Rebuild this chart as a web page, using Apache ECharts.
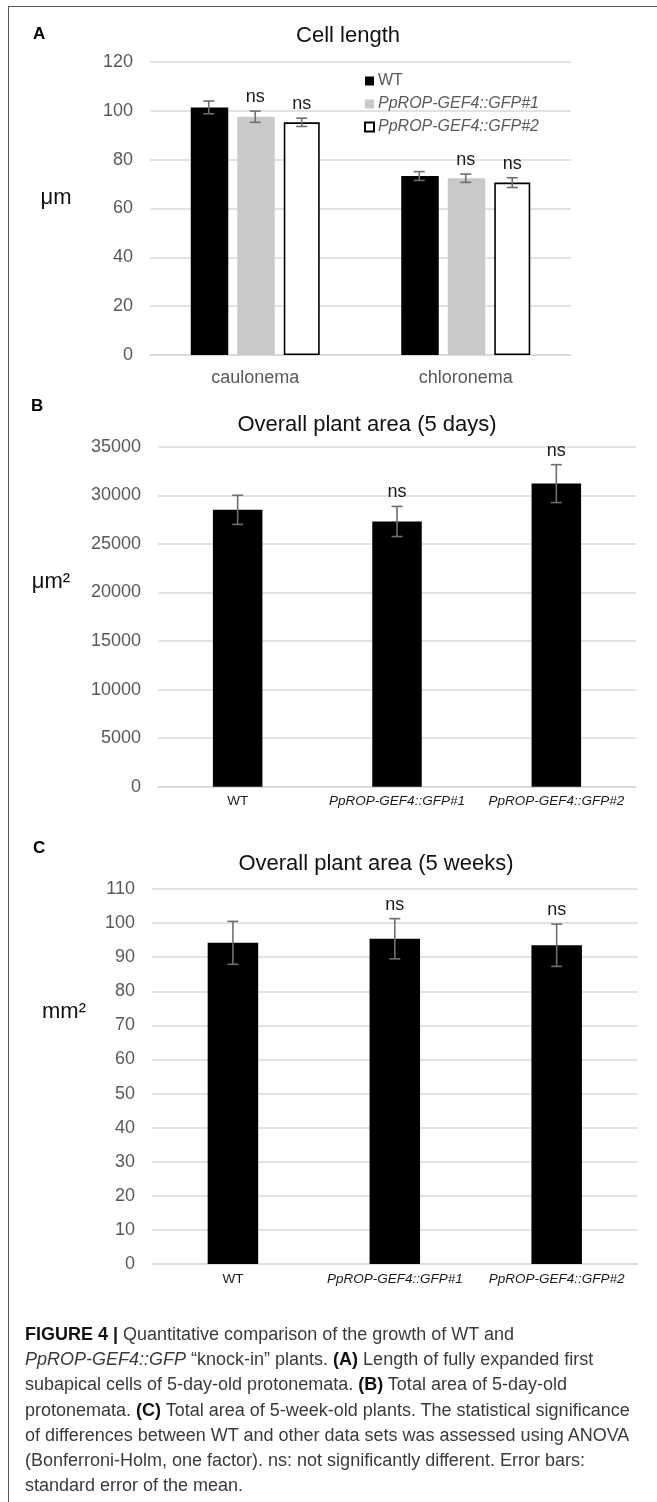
<!DOCTYPE html>
<html>
<head>
<meta charset="utf-8">
<script src="https://cdn.jsdelivr.net/npm/echarts@6/dist/echarts.min.js"></script>
<style>
  html, body { margin:0; padding:0; background:#fff; }
  #wrap { position:relative; width:657px; height:1502px; overflow:hidden; }
  #chart { position:absolute; left:0; top:0; width:657px; height:1502px; }
  #frame { position:absolute; left:8px; top:6px; width:700px; height:1600px;
           border-top:1.5px solid #555; border-left:1.5px solid #555; pointer-events:none; }
  #caption { position:absolute; left:25px; top:1322px; width:640px;
             font-family:"Liberation Sans", Arial, sans-serif; font-size:18px; line-height:25.2px;
             color:#3a3a3a; white-space:nowrap; }
  #caption b { color:#111; }
</style>
</head>
<body>
<div id="wrap">
  <div id="chart"></div>
  <div id="frame"></div>
  <div id="caption">
    <b>FIGURE 4 |</b> Quantitative comparison of the growth of WT and<br>
    <i>PpROP-GEF4::GFP</i> “knock-in” plants. <b>(A)</b> Length of fully expanded first<br>
    subapical cells of 5-day-old protonemata. <b>(B)</b> Total area of 5-day-old<br>
    protonemata. <b>(C)</b> Total area of 5-week-old plants. The statistical significance<br>
    of differences between WT and other data sets was assessed using ANOVA<br>
    (Bonferroni-Holm, one factor). ns: not significantly different. Error bars:<br>
    standard error of the mean.
  </div>
</div>
<script>
// ---------- DATA ----------
const seriesNames = ['WT', 'PpROP-GEF4::GFP#1', 'PpROP-GEF4::GFP#2'];

// Panel A: Cell length (µm)
const catsA = ['caulonema', 'chloronema'];
const aWT   = [101.4, 73.3];
const aWTe  = [2.6, 1.8];
const aG1   = [97.6, 72.4];
const aG1e  = [2.3, 1.7];
const aG2   = [95.3, 70.6];
const aG2e  = [1.7, 2.0];
const aSig  = [['', ''], ['ns', 'ns'], ['ns', 'ns']];
const ticksA = { min: 0, max: 120, interval: 20 };

// Panel B: Overall plant area (5 days), µm²
const catsB = ['WT', 'PpROP-GEF4::GFP#1', 'PpROP-GEF4::GFP#2'];
const bVal  = [28500, 27300, 31200];
const bErr  = [1500, 1550, 1950];
const bSig  = ['', 'ns', 'ns'];
const ticksB = { min: 0, max: 35000, interval: 5000 };

// Panel C: Overall plant area (5 weeks), mm²
const catsC = ['WT', 'PpROP-GEF4::GFP#1', 'PpROP-GEF4::GFP#2'];
const cVal  = [94.2, 95.4, 93.5];
const cErr  = [6.3, 5.9, 6.2];
const cSig  = ['', 'ns', 'ns'];
const ticksC = { min: 0, max: 110, interval: 10 };

// ---------- STYLE ----------
const FONT = '"Liberation Sans", Arial, sans-serif';
const GRID_COL = '#d9d9d9';
const TICK_COL = '#595959';
const ERR_COL = '#6e6e6e';

const chart = echarts.init(document.getElementById('chart'), null, { renderer: 'canvas' });

function errorSeries(xi, yi, vals, errs, sigs, xOffset) {
  return {
    type: 'custom',
    xAxisIndex: xi, yAxisIndex: yi,
    z: 10,
    silent: true,
    data: vals.map((v, i) => [i, v, errs[i]]),
    encode: { x: 0, y: 1 },
    renderItem: function (params, api) {
      const i = api.value(0), v = api.value(1), e = api.value(2);
      const hi = api.coord([i, v + e]);
      const lo = api.coord([i, v - e]);
      const cx = hi[0] + xOffset;
      const cap = 5.5;
      const st = { stroke: ERR_COL, lineWidth: 1.6 };
      const children = [
        { type: 'line', shape: { x1: cx, y1: hi[1], x2: cx, y2: lo[1] }, style: st },
        { type: 'line', shape: { x1: cx - cap, y1: hi[1], x2: cx + cap, y2: hi[1] }, style: st },
        { type: 'line', shape: { x1: cx - cap, y1: lo[1], x2: cx + cap, y2: lo[1] }, style: st }
      ];
      const s = sigs[params.dataIndex];
      if (s) {
        children.push({ type: 'text', style: { text: s, x: cx, y: hi[1] - 14, align: 'center', verticalAlign: 'middle',
          fill: '#1a1a1a', font: '18px ' + FONT } });
      }
      return { type: 'group', children: children };
    }
  };
}

function yAxisCfg(gi, t) {
  return {
    type: 'value', gridIndex: gi, min: t.min, max: t.max, interval: t.interval,
    axisLine: { show: false }, axisTick: { show: false },
    splitLine: { lineStyle: { color: GRID_COL, width: 1.5 } },
    axisLabel: { color: TICK_COL, fontSize: 18, fontFamily: FONT, margin: 17, formatter: (v) => String(v) }
  };
}
function xAxisCfg(gi, cats, labelCfg) {
  return {
    type: 'category', gridIndex: gi, data: cats,
    axisLine: { lineStyle: { color: GRID_COL, width: 1.5 } },
    axisTick: { show: false },
    axisLabel: labelCfg
  };
}
const italicRich = {
  n: { fontSize: 13.5, fontFamily: FONT, color: '#1a1a1a' },
  i: { fontSize: 13.5, fontFamily: FONT, color: '#1a1a1a', fontStyle: 'italic' }
};
const labelBC = (margin) => ({
  interval: 0, margin: margin,
  formatter: (v) => v === 'WT' ? '{n|' + v + '}' : '{i|' + v + '}',
  rich: italicRich
});

const barW = 37.5;
const gapA = 9;
const stepA = barW + gapA;

const option = {
  animation: false,
  title: [
    { text: 'Cell length', left: 343, top: 20, textAlign: 'center',
      textStyle: { fontSize: 22, fontWeight: 'normal', color: '#111', fontFamily: FONT } },
    { text: 'Overall plant area (5 days)', left: 362, top: 409, textAlign: 'center',
      textStyle: { fontSize: 22, fontWeight: 'normal', color: '#111', fontFamily: FONT } },
    { text: 'Overall plant area (5 weeks)', left: 371, top: 848, textAlign: 'center',
      textStyle: { fontSize: 22, fontWeight: 'normal', color: '#111', fontFamily: FONT } }
  ],
  legend: {
    orient: 'vertical', left: 359, top: 68,
    itemWidth: 9, itemHeight: 9, itemGap: 7,
    icon: 'rect',
    selectedMode: false,
    textStyle: { color: TICK_COL, fontSize: 16, fontFamily: FONT, lineHeight: 16, padding: [0, 0, 0, -1] },
    data: [
      { name: seriesNames[0] },
      { name: seriesNames[1], textStyle: { fontStyle: 'italic' } },
      { name: seriesNames[2], textStyle: { fontStyle: 'italic' } }
    ]
  },
  grid: [
    { left: 150, top: 62, width: 421, height: 293 },
    { left: 158, top: 446.7, width: 478, height: 340 },
    { left: 152, top: 889, width: 485.6, height: 375 }
  ],
  xAxis: [
    xAxisCfg(0, catsA, { interval: 0, margin: 14, color: TICK_COL, fontSize: 18, fontFamily: FONT }),
    xAxisCfg(1, catsB, labelBC(8)),
    xAxisCfg(2, catsC, labelBC(8))
  ],
  yAxis: [ yAxisCfg(0, ticksA), yAxisCfg(1, ticksB), yAxisCfg(2, ticksC) ],
  graphic: [
    { type: 'text', left: 33, top: 26, style: { text: 'A', font: 'bold 17px ' + FONT, fill: '#000' } },
    { type: 'text', left: 31, top: 398, style: { text: 'B', font: 'bold 17px ' + FONT, fill: '#000' } },
    { type: 'text', left: 33, top: 840, style: { text: 'C', font: 'bold 17px ' + FONT, fill: '#000' } },
    { type: 'text', x: 56, y: 198, style: { text: 'μm', font: '22px ' + FONT, fill: '#111', align: 'center', verticalAlign: 'middle' } },
    { type: 'text', x: 51, y: 582, style: { text: 'μm²', font: '22px ' + FONT, fill: '#111', align: 'center', verticalAlign: 'middle' } },
    { type: 'text', x: 64, y: 1012, style: { text: 'mm²', font: '22px ' + FONT, fill: '#111', align: 'center', verticalAlign: 'middle' } }
  ],
  series: [
    { name: seriesNames[0], type: 'bar', xAxisIndex: 0, yAxisIndex: 0, data: aWT, barWidth: barW, barGap: (gapA / barW * 100) + '%',
      itemStyle: { color: '#000' } },
    { name: seriesNames[1], type: 'bar', xAxisIndex: 0, yAxisIndex: 0, data: aG1, barWidth: barW, barGap: (gapA / barW * 100) + '%',
      itemStyle: { color: '#c9c9c9' } },
    { name: seriesNames[2], type: 'bar', xAxisIndex: 0, yAxisIndex: 0, data: aG2, barWidth: barW - 1.5, barGap: (gapA / barW * 100) + '%',
      itemStyle: { color: '#fff', borderColor: '#000', borderWidth: 1.6 } },
    errorSeries(0, 0, aWT, aWTe, aSig[0], -stepA),
    errorSeries(0, 0, aG1, aG1e, aSig[1], 0),
    errorSeries(0, 0, aG2, aG2e, aSig[2], stepA),

    { name: 'B', type: 'bar', xAxisIndex: 1, yAxisIndex: 1, data: bVal, barWidth: 49.5, itemStyle: { color: '#000' } },
    errorSeries(1, 1, bVal, bErr, bSig, 0),

    { name: 'C', type: 'bar', xAxisIndex: 2, yAxisIndex: 2, data: cVal, barWidth: 50.5, itemStyle: { color: '#000' } },
    errorSeries(2, 2, cVal, cErr, cSig, 0)
  ]
};
chart.setOption(option);
</script>
</body>
</html>
